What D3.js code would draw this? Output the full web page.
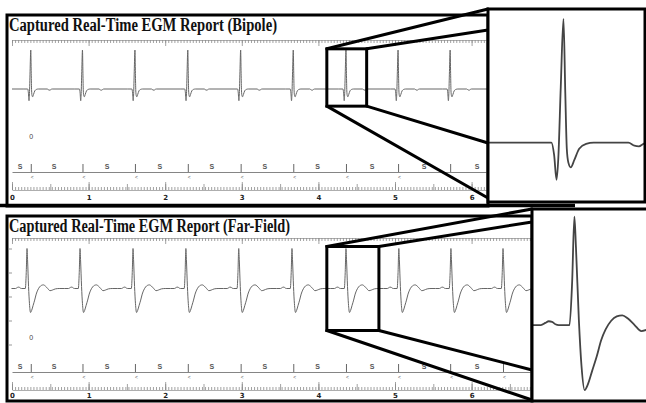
<!DOCTYPE html>
<html>
<head>
<meta charset="utf-8">
<script src="https://cdnjs.cloudflare.com/ajax/libs/d3/7.8.5/d3.min.js"></script>
<style>
  body { margin: 0; background: #fff; }
  svg { display: block; }
</style>
</head>
<body>
<div id="egmChart"></div>
<script>
// R peak times (s)
var bipoleBeats = [0.245, 0.92, 1.605, 2.295, 2.985, 3.672, 4.36, 5.04, 5.72, 6.41];
var farFieldBeats = [0.196, 0.888, 1.58, 2.27, 2.96, 3.655, 4.36, 5.05, 5.73, 6.41];

// marker channel: bars, "S" labels, seconds
var markerTimes = [0.245, 0.92, 1.605, 2.295, 2.985, 3.672, 4.36, 5.04, 5.72, 6.41];
var senseLabels = [0.104, 0.548, 1.24, 1.93, 2.61, 3.30, 3.99, 4.70, 5.38, 6.07, 6.76];
var secondLabels = [0, 1, 2, 3, 4, 5, 6];
var recording = [0, 7.0];

// one beat of each channel: [seconds from R peak, amplitude]
var bipoleBeat = [
  [-0.10, 0], [-0.040, 0], [-0.031, -0.10], [-0.023, -0.30], [-0.017, -0.12],
  [-0.009, 0.45], [0, 1.0], [0.006, 0.40], [0.011, -0.05], [0.016, -0.16],
  [0.024, -0.20], [0.036, -0.14], [0.052, -0.05], [0.075, -0.01], [0.10, 0],
  [0.215, 0], [0.235, -0.025], [0.250, -0.03], [0.265, -0.01], [0.28, 0]
];
var farFieldBeat = [
  [-0.20, 0], [-0.15, 0], [-0.13, 0.02], [-0.115, 0.035], [-0.100, 0.03],
  [-0.085, 0.008], [-0.07, 0], [-0.022, 0], [-0.010, 0.40], [0, 1.0],
  [0.007, 0.72], [0.020, 0.05], [0.032, -0.38], [0.046, -0.60], [0.060, -0.55],
  [0.080, -0.42], [0.100, -0.29], [0.120, -0.14], [0.140, -0.04], [0.165, 0.04],
  [0.190, 0.08], [0.215, 0.09], [0.240, 0.06], [0.270, 0.0], [0.300, -0.055],
  [0.330, -0.04], [0.370, -0.01], [0.420, 0]
];

// zoom windows [t0, t1, vLow, vHigh]
var bipoleBox = [4.11, 4.63, -0.44, 1.03];
var bipoleInset = [4.11, 4.63, -0.48, 1.08];
var farFieldBox = [4.11, 4.79, -1.05, 1.05];
var farFieldInset = [4.17, 4.69, -0.70, 1.07];

var W = 646, H = 403;

var svg = d3.select("#egmChart").append("svg")
  .attr("width", W)
  .attr("height", H);

// px per second is shared by both strips
var xBase = d3.scaleLinear().domain([0, 6]).range([12, 471.6]);

var panels = [
  {
    title: "Captured Real-Time EGM Report (Bipole)", titleLen: 268, titleY: 31,
    top: 15, bottom: 206, left: 7, right: 488,
    base: 89, amp: 39, rulerTop: 40, markY: 172, rulerBot: 190, labelY: 200, zeroY: 139,
    beats: bipoleBeats, beat: bipoleBeat, box: bipoleBox, zoom: bipoleInset,
    inset: {x: 488, y: 9, w: 157, h: 193}, links: [9, 30, 143, 198], leftTicks: false
  },
  {
    title: "Captured Real-Time EGM Report (Far-Field)", titleLen: 281, titleY: 232,
    top: 216, bottom: 401, left: 7, right: 532,
    base: 288.5, amp: 40, rulerTop: 238, markY: 372, rulerBot: 390, labelY: 398, zeroY: 340,
    beats: farFieldBeats, beat: farFieldBeat, box: farFieldBox, zoom: farFieldInset,
    inset: {x: 532, y: 209, w: 116, h: 192}, links: [209, 222, 370, 400], leftTicks: true
  }
];

function buildTrace(beats, beat) {
  var pts = [{t: recording[0], v: 0}];
  beats.forEach(function(b) {
    beat.forEach(function(p) { pts.push({t: b + p[0], v: p[1]}); });
  });
  pts.push({t: recording[1], v: 0});
  return pts;
}

panels.forEach(function(p, i) {
  var x = xBase.copy().domain([0, xBase.invert(p.right - 2)]).range([12, p.right - 2]);
  var y = d3.scaleLinear().domain([0, 1]).range([p.base, p.base - p.amp]);
  var g = svg.append("g");

  var clipId = "clip" + i;
  g.append("clipPath").attr("id", clipId)
    .append("rect")
    .attr("x", p.left).attr("y", p.top)
    .attr("width", p.right - p.left).attr("height", p.bottom - p.top);

  var trace = buildTrace(p.beats, p.beat);
  var line = d3.line()
    .x(function(d) { return x(d.t); })
    .y(function(d) { return y(d.v); })
    .curve(d3.curveMonotoneX);

  g.append("path")
    .datum(trace)
    .attr("clip-path", "url(#" + clipId + ")")
    .attr("fill", "none")
    .attr("stroke", "#666")
    .attr("stroke-width", 1)
    .attr("d", line);

  // rulers (fine ticks every 40 ms)
  var inside = function(t) { return x(t) <= p.right - 2; };
  var minor = d3.range(0, 200).map(function(k) { return k * 0.04; }).filter(inside);
  var half = d3.range(0, 14).map(function(k) { return k * 0.5; }).filter(inside);
  var whole = secondLabels.filter(inside);

  function ruler(axisFn, yPos, vals, size, showDomain) {
    var a = g.append("g")
      .attr("transform", "translate(0," + yPos + ")")
      .call(axisFn(x).tickValues(vals).tickSize(size).tickSizeOuter(0).tickFormat(""));
    a.selectAll("line").attr("stroke", "#8a8a8a").attr("stroke-width", 0.8);
    a.select(".domain").attr("stroke", showDomain ? "#999" : "none").attr("stroke-width", 0.8);
  }
  ruler(d3.axisBottom, p.rulerTop, minor, 3, true);
  ruler(d3.axisBottom, p.rulerTop, whole, 6, false);
  ruler(d3.axisTop, p.rulerBot, minor, 3, true);
  ruler(d3.axisTop, p.rulerBot, half, 6, false);
  ruler(d3.axisTop, p.rulerBot, whole, 8, false);

  // marker channel
  var m = g.append("g")
    .attr("transform", "translate(0," + p.markY + ")")
    .call(d3.axisTop(x).tickValues(markerTimes.filter(inside)).tickSize(8).tickSizeOuter(0).tickFormat(""));
  m.selectAll("line").attr("stroke", "#555").attr("stroke-width", 0.9);
  m.select(".domain").attr("stroke", "#777").attr("stroke-width", 0.9);

  g.selectAll(".sense")
    .data(senseLabels.filter(function(t) { return x(t) < p.right - 4; }))
    .enter().append("text")
    .attr("x", function(d) { return x(d); })
    .attr("y", p.markY - 3)
    .attr("text-anchor", "middle")
    .attr("font-family", "Liberation Sans, Arial, sans-serif")
    .attr("font-weight", "bold")
    .attr("font-size", 7)
    .attr("fill", "#555")
    .text("S");

  g.selectAll(".arrow")
    .data(markerTimes.filter(function(t) { return x(t) < p.right - 4; }))
    .enter().append("text")
    .attr("x", function(d) { return x(d) + 1.5; })
    .attr("y", p.markY + 7)
    .attr("text-anchor", "middle")
    .attr("font-family", "Liberation Sans, Arial, sans-serif")
    .attr("font-size", 5)
    .attr("fill", "#555")
    .text("<");

  // seconds along the bottom
  var s = g.append("g")
    .attr("transform", "translate(0," + p.labelY + ")")
    .call(d3.axisBottom(x).tickValues(whole).tickSize(0).tickPadding(0).tickFormat(d3.format("d")));
  s.select(".domain").remove();
  s.selectAll("text")
    .attr("dy", 0)
    .attr("font-family", "DejaVu Sans, sans-serif")
    .attr("font-weight", "bold")
    .attr("font-size", 7)
    .attr("fill", "#222");

  g.append("text")
    .attr("x", x(0.25))
    .attr("y", p.zeroY)
    .attr("text-anchor", "middle")
    .attr("font-family", "Liberation Sans, Arial, sans-serif")
    .attr("font-size", 7)
    .attr("fill", "#444")
    .text("0");

  if (p.leftTicks) {
    var l = g.append("g")
      .attr("transform", "translate(" + (p.left + 2) + ",0)")
      .call(d3.axisRight(y).tickValues([1.0, 0.4, -0.2, -0.8, -1.4]).tickSize(3).tickFormat(""));
    l.selectAll("line").attr("stroke", "#999");
    l.select(".domain").remove();
  }

  // panel frame
  g.append("rect")
    .attr("x", p.left).attr("y", p.top)
    .attr("width", p.right - p.left).attr("height", p.bottom - p.top)
    .attr("fill", "none")
    .attr("stroke", "#000")
    .attr("stroke-width", 3);

  g.append("text")
    .attr("x", 9)
    .attr("y", p.titleY)
    .attr("textLength", p.titleLen)
    .attr("lengthAdjust", "spacingAndGlyphs")
    .attr("font-family", "Liberation Serif, Times New Roman, serif")
    .attr("font-weight", "bold")
    .attr("font-size", 18)
    .attr("fill", "#111")
    .text(p.title);

  // zoom box and the lines fanning out to the inset
  var bx0 = x(p.box[0]), bx1 = x(p.box[1]);
  var by0 = y(p.box[3]), by1 = y(p.box[2]);
  var ins = p.inset;
  var links = [
    [bx0, by0, ins.x, p.links[0]],
    [bx1, by0, ins.x, p.links[1]],
    [bx1, by1, ins.x, p.links[2]],
    [bx0, by1, ins.x, p.links[3]]
  ];
  g.selectAll(".link")
    .data(links)
    .enter().append("line")
    .attr("x1", function(d) { return d[0]; })
    .attr("y1", function(d) { return d[1]; })
    .attr("x2", function(d) { return d[2]; })
    .attr("y2", function(d) { return d[3]; })
    .attr("stroke", "#000")
    .attr("stroke-width", 3)
    .attr("stroke-linecap", "round");

  g.append("rect")
    .attr("x", bx0).attr("y", by0)
    .attr("width", bx1 - bx0).attr("height", by1 - by0)
    .attr("fill", "none")
    .attr("stroke", "#000")
    .attr("stroke-width", 3);

  // inset: the same trace, blown up
  var xi = d3.scaleLinear().domain([p.zoom[0], p.zoom[1]]).range([ins.x, ins.x + ins.w]);
  var yi = d3.scaleLinear().domain([p.zoom[2], p.zoom[3]]).range([ins.y + ins.h, ins.y]);

  g.append("rect")
    .attr("x", ins.x).attr("y", ins.y)
    .attr("width", ins.w).attr("height", ins.h)
    .attr("fill", "#fff");

  var insClip = "insClip" + i;
  g.append("clipPath").attr("id", insClip)
    .append("rect")
    .attr("x", ins.x).attr("y", ins.y)
    .attr("width", ins.w).attr("height", ins.h);

  var insetLine = d3.line()
    .x(function(d) { return xi(d.t); })
    .y(function(d) { return yi(d.v); })
    .curve(d3.curveMonotoneX);

  g.append("path")
    .datum(trace)
    .attr("clip-path", "url(#" + insClip + ")")
    .attr("fill", "none")
    .attr("stroke", "#444")
    .attr("stroke-width", 1.8)
    .attr("d", insetLine);

  g.append("rect")
    .attr("x", ins.x).attr("y", ins.y)
    .attr("width", ins.w).attr("height", ins.h)
    .attr("fill", "none")
    .attr("stroke", "#000")
    .attr("stroke-width", 3);
});

// heavy rule under the top strip runs on beneath the inset
svg.append("line")
  .attr("x1", 0).attr("x2", 575)
  .attr("y1", 205.5).attr("y2", 205.5)
  .attr("stroke", "#000")
  .attr("stroke-width", 3.5);
</script>
</body>
</html>
